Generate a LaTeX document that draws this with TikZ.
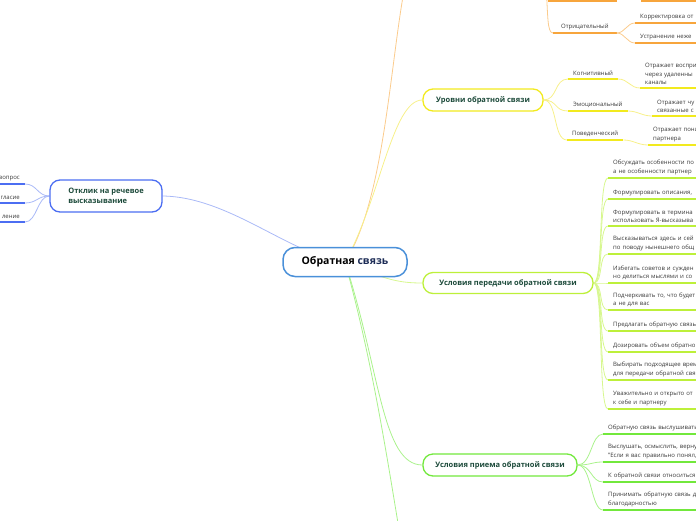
\documentclass[tikz,border=0pt]{standalone}
\usepackage{fontspec}
\setmainfont{Open Sans}
\usetikzlibrary{positioning}
\definecolor{cenblue}{HTML}{4A90D9}
\definecolor{navy}{HTML}{1B2B55}
\definecolor{otkblue}{HTML}{4C6EF2}
\definecolor{otklight}{HTML}{A9B9F7}
\definecolor{orng}{HTML}{F7A53C}
\definecolor{orlight}{HTML}{FBCB8C}
\definecolor{ylw}{HTML}{F2EA1E}
\definecolor{ylight}{HTML}{F7F08A}
\definecolor{lgrn}{HTML}{BDF03A}
\definecolor{lglight}{HTML}{D7F78F}
\definecolor{grn}{HTML}{72E83C}
\definecolor{grlight}{HTML}{AAF28C}
\definecolor{dgreen}{HTML}{1C4A3A}
\definecolor{leafgray}{HTML}{3A3A3A}
\pgfdeclarelayer{bg}
\pgfsetlayers{bg,main}
\tikzset{
  topic/.style={rounded corners=10pt, fill=white, line width=1.3pt, text=dgreen,
    font=\fontsize{7.5}{9.5}\selectfont\bfseries, align=center, inner sep=2pt},
  leaf/.style={anchor=south west, inner xsep=5pt, inner ysep=3pt,
    font=\fontsize{6}{8.6}\selectfont, text=leafgray, align=left},
  leafcut/.style={leaf, text width=130pt},
  leafl/.style={leaf, anchor=south east, text width=60pt, align=right},
  uline/.style={line width=1.7pt},
  link/.style={line width=0.8pt},
}

\begin{document}
\begin{tikzpicture}[x=1pt,y=-1pt]
\useasboundingbox (0,0) rectangle (696,520);
\clip (0,0) rectangle (696,520);

% central topic
\node[rounded corners=12pt, fill=white, draw=cenblue, line width=1.5pt, minimum width=124pt, minimum height=29pt,
  font=\fontsize{10.5}{12}\selectfont\bfseries] (cen) at (345,262) {Обратная \textcolor{navy}{связь}};

% main topics
\node[topic, draw=otkblue, minimum width=112pt, minimum height=32pt, align=left] (otk) at (106,196) {Отклик на речевое\\ высказывание};
\node[topic, draw=ylw, minimum width=120pt, minimum height=22pt] (lvl) at (483,100) {Уровни обратной связи};
\node[topic, draw=lgrn, minimum width=170pt, minimum height=21pt] (per) at (508,283) {Условия передачи обратной связи};
\node[topic, draw=grn, minimum width=154pt, minimum height=22pt] (pri) at (500,465) {Условия приема обратной связи};

% left leaves
\node[leafl] (l1) at (25,184) {вопрос};
\node[leafl] (l2) at (25,203) {гласие};
\node[leafl] (l3) at (25,222) {ление};

% orange leaves
\node[leaf, inner xsep=8pt] (neg) at (553,33) {Отрицательный};
\node[leafcut] (kor) at (635,23) {Корректировка от};
\node[leafcut] (ustr) at (635,43) {Устранение неже};
\coordinate (topo) at (406,-20);
\coordinate (orgpar) at (546,-15);
\coordinate (pa) at (548,1);
\coordinate (pb) at (617,1);
\coordinate (pc) at (641,1);
\coordinate (pd) at (700,1);

% yellow leaves
\node[leaf] (y1) at (568,79) {Когнитивный};
\node[leaf] (y2) at (568,111) {Эмоциональный};
\node[leaf] (y3) at (567,140) {Поведенческий};
\node[leafcut] (y1a) at (640,88) {Отражает воспри\\через удаленны\\каналы};
\node[leafcut] (y2a) at (652,116) {Отражает чу\\связанные с};
\node[leafcut] (y3a) at (648,145) {Отражает пони\\партнера};

% transfer conditions
\node[leafcut] (p1) at (608,178) {Обсуждать особенности по\\а не особенности партнер};
\node[leafcut] (p2) at (608,199) {Формулировать описания,};
\node[leafcut] (p3) at (608,226) {Формулировать в термина\\использовать Я-высказыва};
\node[leafcut] (p4) at (608,254) {Высказываться здесь и сей\\по поводу нынешнего общ};
\node[leafcut] (p5) at (608,283) {Избегать советов и сужден\\но делиться мыслями и со};
\node[leafcut] (p6) at (608,310) {Подчеркивать то, что будет\\а не для вас};
\node[leafcut] (p7) at (608,331) {Предлагать обратную связь};
\node[leafcut] (p8) at (608,352) {Дозировать объем обратно};
\node[leafcut] (p9) at (608,380) {Выбирать подходящее врем\\для передачи обратной свя};
\node[leafcut] (p10) at (608,409) {Уважительно и открыто от\\к себе и партнеру};

% reception conditions
\node[leafcut] (r1) at (603,434) {Обратную связь выслушивать};
\node[leafcut] (r2) at (603,462) {Выслушать, осмыслить, верну\\"Если я вас правильно понял,};
\node[leafcut] (r3) at (603,482) {К обратной связи относиться};
\node[leafcut] (r4) at (603,510) {Принимать обратную связь д\\благодарностью};
\coordinate (botg) at (404,560);

\begin{pgfonlayer}{bg}
% trunks
\draw[link, otklight] (otk.east) .. controls (230,197) and (290,255) .. (cen.center);
\draw[link, orlight] (cen.center) .. controls (385,200) and (390,60) .. (topo);
\draw[link, ylight] (cen.center) .. controls (380,200) and (392,100) .. (lvl.west);
\draw[link, lglight] (cen.center) .. controls (385,280) and (400,283) .. (per.west);
\draw[link, grlight] (cen.center) .. controls (380,370) and (382,465) .. (pri.west);
\draw[link, grlight] (cen.center) .. controls (372,360) and (386,450) .. (botg);

% left branch
\foreach \n in {l1,l2,l3} {
  \draw[link, otklight] (\n.south east) .. controls +(12,0) and +(-12,0) .. (otk.west);
  \draw[uline, otkblue] (\n.south west) -- (\n.south east);
}

% orange branch
\draw[link, orlight] (orgpar) .. controls +(2,30) and +(-6,0) .. (neg.south west);
\draw[uline, orng] (pa) -- (pb);
\draw[uline, orng] (pc) -- (pd);
\draw[uline, orng] (neg.south west) -- (neg.south east);
\foreach \n in {kor,ustr} {
  \draw[link, orlight] (neg.south east) .. controls +(8,0) and +(-8,0) .. (\n.south west);
  \draw[uline, orng] (\n.south west) -- (\n.south east);
}

% yellow branch
\foreach \n/\m in {y1/y1a,y2/y2a,y3/y3a} {
  \draw[link, ylight] (lvl.east) .. controls +(14,0) and +(-14,0) .. (\n.south west);
  \draw[link, ylight] (\n.south east) .. controls +(10,0) and +(-10,0) .. (\m.south west);
  \draw[uline, ylw] (\n.south west) -- (\n.south east);
  \draw[uline, ylw] (\m.south west) -- (\m.south east);
}

% transfer branch
\foreach \i in {1,...,10} {
  \draw[link, lglight] (per.east) .. controls +(10,0) and +(-10,0) .. (p\i.south west);
  \draw[uline, lgrn] (p\i.south west) -- (p\i.south east);
}

% reception branch
\foreach \i in {1,...,4} {
  \draw[link, grlight] (pri.east) .. controls +(14,0) and +(-12,0) .. (r\i.south west);
  \draw[uline, grn] (r\i.south west) -- (r\i.south east);
}
\end{pgfonlayer}
\end{tikzpicture}
\end{document}
